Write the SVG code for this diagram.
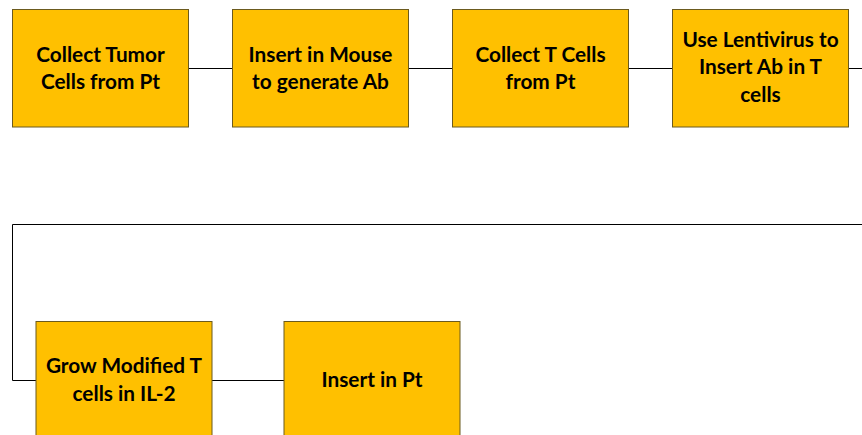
<svg xmlns="http://www.w3.org/2000/svg" width="862" height="435" viewBox="0 0 862 435">
<style>
.box{fill:#FFC000;stroke:#6B5A1E;stroke-width:1}
.t{font-family:Lato,"Liberation Sans",sans-serif;font-weight:bold;font-size:20.8px;fill:#000;text-anchor:middle}
.c{fill:none;stroke:#000;stroke-width:1}
</style>
<rect width="862" height="435" fill="#fff"/>
<g id="connectors">
<line class="c" x1="188" y1="68.5" x2="232" y2="68.5"/>
<line class="c" x1="408" y1="68.5" x2="452" y2="68.5"/>
<line class="c" x1="628" y1="68.5" x2="672" y2="68.5"/>
<line class="c" x1="848" y1="68.5" x2="862" y2="68.5"/>
<polyline class="c" points="862,224.5 12.5,224.5 12.5,380.5 36,380.5"/>
<line class="c" x1="212" y1="380.5" x2="284" y2="380.5"/>
</g>
<g id="n1"><rect class="box" x="12.5" y="9.5" width="176" height="117.5"/>
<text class="t"><tspan x="100.5" y="61.5">Collect Tumor</tspan><tspan x="100.5" y="89">Cells from Pt</tspan></text></g>
<g id="n2"><rect class="box" x="232.5" y="9.5" width="176" height="117.5"/>
<text class="t"><tspan x="320.5" y="61.5">Insert in Mouse</tspan><tspan x="320.5" y="89">to generate Ab</tspan></text></g>
<g id="n3"><rect class="box" x="452.5" y="9.5" width="176" height="117.5"/>
<text class="t"><tspan x="540.5" y="61.5">Collect T Cells</tspan><tspan x="540.5" y="89">from Pt</tspan></text></g>
<g id="n4"><rect class="box" x="672.5" y="9.5" width="176" height="117.5"/>
<text class="t"><tspan x="760.5" y="46.5">Use Lentivirus to</tspan><tspan x="760.5" y="74">Insert Ab in T</tspan><tspan x="760.5" y="101.5">cells</tspan></text></g>
<g id="n5"><rect class="box" x="36" y="321.5" width="176" height="117.5"/>
<text class="t"><tspan x="124" y="373">Grow Modified T</tspan><tspan x="124" y="400.5">cells in IL-2</tspan></text></g>
<g id="n6"><rect class="box" x="284" y="321.5" width="176" height="117.5"/>
<text class="t"><tspan x="372" y="387">Insert in Pt</tspan></text></g>
</svg>
